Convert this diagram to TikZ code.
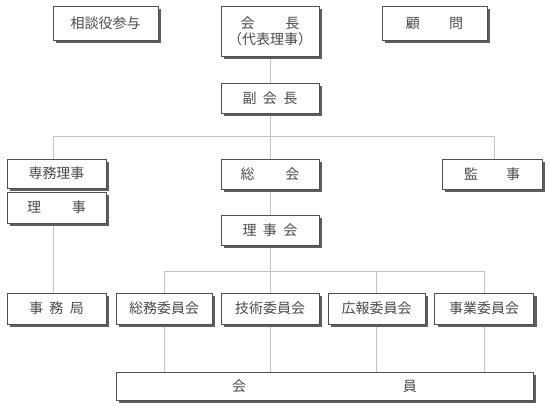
\documentclass[tikz,border=0pt]{standalone}
\usepackage{fontspec}
\setmainfont{Noto Sans CJK JP}
\usetikzlibrary{shadows}
\pgfdeclarelayer{bg}
\pgfsetlayers{bg,main}
\definecolor{boxline}{HTML}{505050}
\definecolor{shadowc}{HTML}{5E5E5E}
\definecolor{txt}{HTML}{4A4A4A}
\definecolor{conn}{HTML}{C4C4C4}
\tikzset{
  orgbox/.style={draw=boxline, line width=0.9pt, fill=white, text=txt,
    font=\fontsize{14}{16}\selectfont, inner sep=0pt, align=center,
    drop shadow={shadow xshift=3pt, shadow yshift=-3pt, fill=shadowc, opacity=1}},
  conline/.style={draw=conn, line width=0.8pt}
}
\newcommand{\gp}[1]{\hspace{#1em}}
\begin{document}
\begin{tikzpicture}[x=1pt,y=-1pt]
\useasboundingbox (0,0) rectangle (550,407);
\node[orgbox, minimum width=105pt, minimum height=34pt] (sodan) at (105.5,23) {相談役参与};
\node[orgbox, minimum width=98pt, minimum height=50pt] (kaicho) at (270,31) {会\gp{2.2}長\\（代表理事）};
\node[orgbox, minimum width=105pt, minimum height=34pt] (komon) at (434.5,23) {顧\gp{2.1}問};
\node[orgbox, minimum width=98pt, minimum height=30pt] (fuku) at (270,98) {副\gp{0.45}会\gp{0.45}長};
\node[orgbox, minimum width=99pt, minimum height=29pt] (senmu) at (56.5,173.5) {専務理事};
\node[orgbox, minimum width=99pt, minimum height=31pt] (riji) at (56.5,207.5) {理\gp{2.2}事};
\node[orgbox, minimum width=98pt, minimum height=30pt] (sokai) at (270,174) {総\gp{2.2}会};
\node[orgbox, minimum width=100pt, minimum height=30pt] (kanji) at (492,174) {監\gp{2.0}事};
\node[orgbox, minimum width=98pt, minimum height=30pt] (rijikai) at (270,230) {理\gp{0.45}事\gp{0.45}会};
\node[orgbox, minimum width=99pt, minimum height=31pt] (jimu) at (56.5,308.5) {事\gp{0.45}務\gp{0.45}局};
\node[orgbox, minimum width=96pt, minimum height=31pt] (c1) at (164,308.5) {総務委員会};
\node[orgbox, minimum width=98pt, minimum height=31pt] (c2) at (270,308.5) {技術委員会};
\node[orgbox, minimum width=97pt, minimum height=31pt] (c3) at (376.5,308.5) {広報委員会};
\node[orgbox, minimum width=99pt, minimum height=31pt] (c4) at (484,308.5) {事業委員会};
\node[orgbox, minimum width=417pt, minimum height=28pt] (kaiin) at (324.5,386) {会\gp{11.2}員};
\coordinate (b1) at (53,136);
\coordinate (b2) at (494,136);
\coordinate (h) at (270,271);
\begin{pgfonlayer}{bg}
\draw[conline] (kaicho.south) -- (fuku.north);
\draw[conline] (fuku.south) -- (sokai.north);
\draw[conline] (b1) -- (b2);
\draw[conline] (b1) -- (b1 |- senmu.north);
\draw[conline] (b2) -- (b2 |- kanji.north);
\draw[conline] (sokai.south) -- (rijikai.north);
\draw[conline] (rijikai.south) -- (c2.north);
\draw[conline] (riji.south -| b1) -- (jimu.north -| b1);
\draw[conline] (c1.north) -- (c1.north |- h) -- (c4.north |- h) -- (c4.north);
\draw[conline] (c3.north) -- (c3.north |- h);
\draw[conline] (c1.south) -- (c1.south |- kaiin.north);
\draw[conline] (c2.south) -- (c2.south |- kaiin.north);
\draw[conline] (c3.south) -- (c3.south |- kaiin.north);
\draw[conline] (c4.south) -- (c4.south |- kaiin.north);
\end{pgfonlayer}
\end{tikzpicture}
\end{document}
